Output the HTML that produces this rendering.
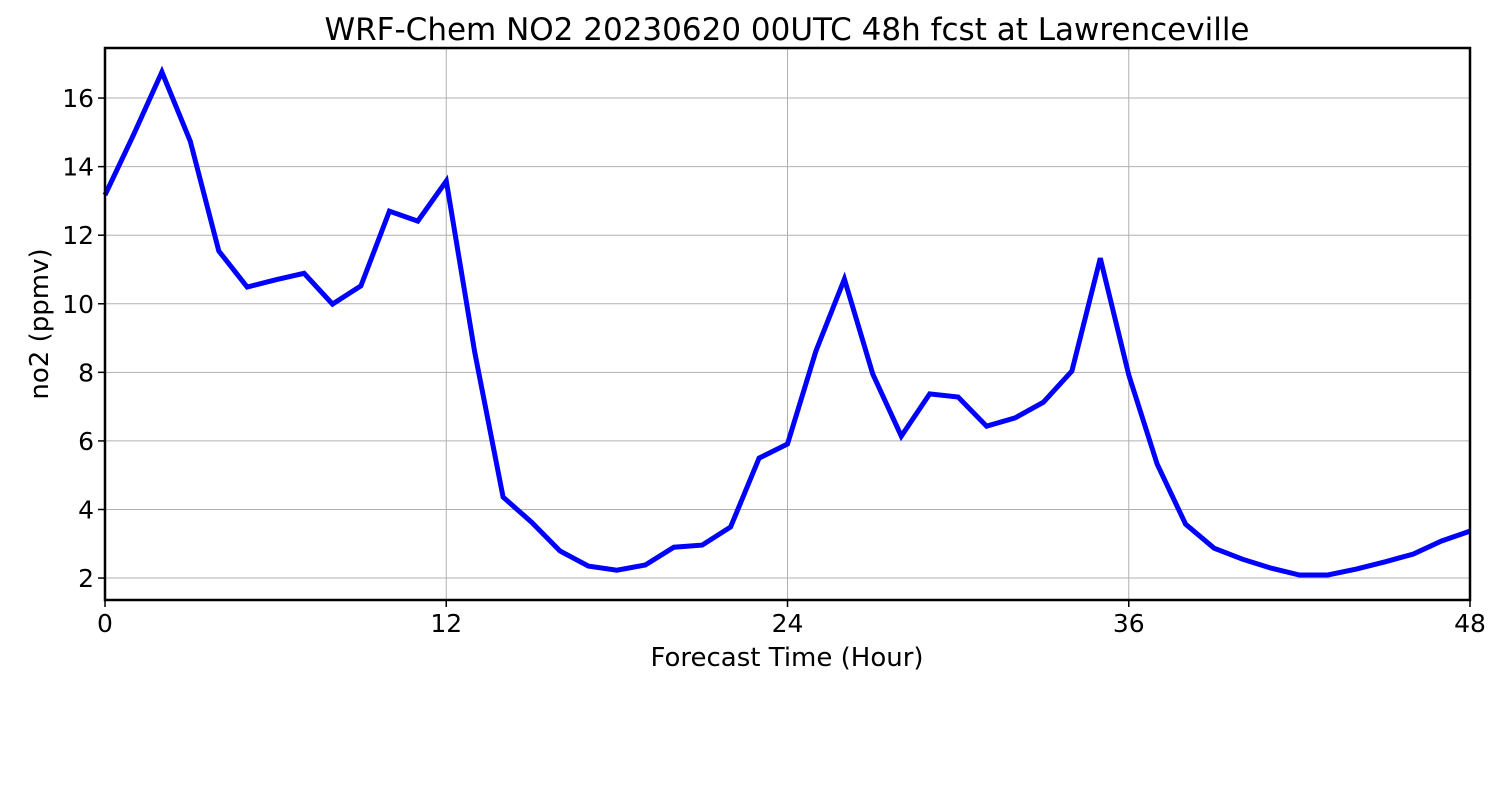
<!DOCTYPE html>
<html><head><meta charset="utf-8"><style>
html,body{margin:0;padding:0;background:#fff;}
svg{display:block;font-family:"DejaVu Sans","Liberation Sans",sans-serif;}
</style></head><body>
<svg id="chart" width="1500" height="800" viewBox="0 0 1500 800" xmlns="http://www.w3.org/2000/svg">
<rect width="1500" height="800" fill="#fff"/>
<text x="787" y="40" font-size="31" text-anchor="middle">WRF-Chem NO2  20230620 00UTC 48h fcst at Lawrenceville</text>
<g id="grid"></g>
<g id="ticks"></g>
<g id="series"></g>
<rect x="105" y="48" width="1365" height="552" fill="none" stroke="#000" stroke-width="2.5"/>
<text x="787" y="666" font-size="26" text-anchor="middle">Forecast Time (Hour)</text>
<text transform="translate(48,324) rotate(-90)" font-size="26" text-anchor="middle">no2  (ppmv)</text>
</svg>
<script>
const hours = [0,1,2,3,4,5,6,7,8,9,10,11,12,13,14,15,16,17,18,19,20,21,22,23,24,25,26,27,28,29,30,31,32,33,34,35,36,37,38,39,40,41,42,43,44,45,46,47,48];
const no2Values = [13.17,14.92,16.76,14.74,11.54,10.49,10.70,10.89,9.99,10.52,12.70,12.41,13.58,8.59,4.36,3.63,2.79,2.35,2.23,2.38,2.90,2.96,3.49,5.50,5.91,8.62,10.72,7.95,6.14,7.37,7.28,6.43,6.67,7.13,8.04,11.33,7.92,5.32,3.57,2.87,2.55,2.29,2.09,2.09,2.26,2.47,2.70,3.08,3.37];
const xTicks = [0,12,24,36,48];
const yTicks = [2,4,6,8,10,12,14,16];

const X0=105,X1=1470,Y0=600,Y1=48,xMin=0,xMax=48,yMin=1.36,yMax=17.46;
function xs(v){return X0+(v-xMin)/(xMax-xMin)*(X1-X0);}
function ys(v){return Y0-(v-yMin)/(yMax-yMin)*(Y0-Y1);}
const NS="http://www.w3.org/2000/svg";
function mk(tag,attrs,parent){const e=document.createElementNS(NS,tag);for(const k in attrs)e.setAttribute(k,attrs[k]);parent.appendChild(e);return e;}
const grid=document.getElementById('grid'),ticks=document.getElementById('ticks'),series=document.getElementById('series');

xTicks.forEach(t=>{
  const x=xs(t);
  const g=mk('line',{x1:x,x2:x,y1:Y1,y2:Y0,stroke:'#b0b0b0','stroke-width':1},grid);
  
  
  const tk=mk('line',{x1:x,x2:x,y1:Y0,y2:Y0+7,stroke:'#000','stroke-width':1.5},ticks);
  
  
  const lb=mk('text',{x:x,y:Y0+32,'font-size':25,'text-anchor':'middle'},ticks);
  lb.textContent=t;
  
  
});
yTicks.forEach(t=>{
  const y=ys(t);
  const g=mk('line',{x1:X0,x2:X1,y1:y,y2:y,stroke:'#b0b0b0','stroke-width':1},grid);
  
  
  const tk=mk('line',{x1:X0-7,x2:X0,y1:y,y2:y,stroke:'#000','stroke-width':1.5},ticks);
  
  
  const lb=mk('text',{x:X0-11,y:y+9,'font-size':25,'text-anchor':'end'},ticks);
  lb.textContent=t;
  
  
});
const pts=hours.map((h,i)=>xs(h).toFixed(1)+','+ys(no2Values[i]).toFixed(1)).join(' ');
const line=mk('polyline',{points:pts,fill:'none',stroke:'#0000ff','stroke-width':5,'stroke-linejoin':'miter'},series);


</script>
</body></html>
